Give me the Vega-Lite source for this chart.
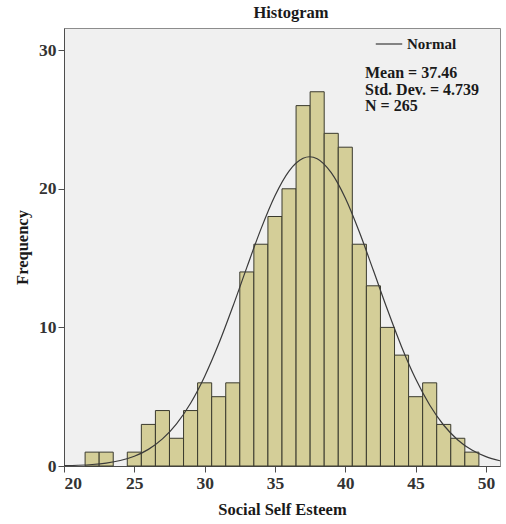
{
  "$schema": "https://vega.github.io/schema/vega-lite/v6.json",
  "width": 436,
  "height": 438,
  "autosize": {"type": "none"},
  "padding": {"left": 64, "top": 28, "right": 6, "bottom": 58},
  "background": "#ffffff",
  "title": {"text": "Histogram", "anchor": "middle", "frame": "group", "offset": 7, "dx": 9, "font": "Liberation Serif", "fontSize": 16.5, "fontWeight": "bold", "color": "#1a1a1a"},
  "config": {
    "view": {"fill": "#f0f0f0", "stroke": "#8c8c8c", "strokeWidth": 1},
    "axis": {"grid": false, "labelFont": "Liberation Serif", "labelFontSize": 17.5, "labelFontWeight": "bold", "labelColor": "#333333", "titleFont": "Liberation Serif", "titleFontSize": 16.5, "titleFontWeight": "bold", "titleColor": "#1a1a1a", "domainColor": "#4d4d4d", "tickColor": "#4d4d4d", "tickSize": 6}
  },
  "datasets": {
    "bins": [
      {"score": 22, "count": 1}, {"score": 23, "count": 1}, {"score": 25, "count": 1},
      {"score": 26, "count": 3}, {"score": 27, "count": 4}, {"score": 28, "count": 2},
      {"score": 29, "count": 4}, {"score": 30, "count": 6}, {"score": 31, "count": 5},
      {"score": 32, "count": 6}, {"score": 33, "count": 14}, {"score": 34, "count": 16},
      {"score": 35, "count": 18}, {"score": 36, "count": 20}, {"score": 37, "count": 26},
      {"score": 38, "count": 27}, {"score": 39, "count": 24}, {"score": 40, "count": 23},
      {"score": 41, "count": 16}, {"score": 42, "count": 13}, {"score": 43, "count": 10},
      {"score": 44, "count": 8}, {"score": 45, "count": 5}, {"score": 46, "count": 6},
      {"score": 47, "count": 3}, {"score": 48, "count": 2}, {"score": 49, "count": 1}
    ],
    "normal": [
      {"x": 20, "y": 0.025, "series": "Normal"}, {"x": 21, "y": 0.054, "series": "Normal"},
      {"x": 22, "y": 0.109, "series": "Normal"}, {"x": 23, "y": 0.212, "series": "Normal"},
      {"x": 24, "y": 0.395, "series": "Normal"}, {"x": 25, "y": 0.703, "series": "Normal"},
      {"x": 26, "y": 1.199, "series": "Normal"}, {"x": 27, "y": 1.953, "series": "Normal"},
      {"x": 28, "y": 3.043, "series": "Normal"}, {"x": 29, "y": 4.531, "series": "Normal"},
      {"x": 30, "y": 6.463, "series": "Normal"}, {"x": 31, "y": 8.813, "series": "Normal"},
      {"x": 32, "y": 11.49, "series": "Normal"}, {"x": 33, "y": 14.33, "series": "Normal"},
      {"x": 34, "y": 17.09, "series": "Normal"}, {"x": 35, "y": 19.5, "series": "Normal"},
      {"x": 36, "y": 21.28, "series": "Normal"}, {"x": 37, "y": 22.2, "series": "Normal"},
      {"x": 37.46, "y": 22.31, "series": "Normal"}, {"x": 38, "y": 22.17, "series": "Normal"},
      {"x": 39, "y": 21.16, "series": "Normal"}, {"x": 40, "y": 19.33, "series": "Normal"},
      {"x": 41, "y": 16.88, "series": "Normal"}, {"x": 42, "y": 14.1, "series": "Normal"},
      {"x": 43, "y": 11.27, "series": "Normal"}, {"x": 44, "y": 8.61, "series": "Normal"},
      {"x": 45, "y": 6.29, "series": "Normal"}, {"x": 46, "y": 4.4, "series": "Normal"},
      {"x": 47, "y": 2.94, "series": "Normal"}, {"x": 48, "y": 1.881, "series": "Normal"},
      {"x": 49, "y": 1.15, "series": "Normal"}, {"x": 50, "y": 0.673, "series": "Normal"},
      {"x": 51, "y": 0.377, "series": "Normal"}
    ],
    "stats": [
      {"label": "Mean = 37.46\nStd. Dev. = 4.739\nN = 265"}
    ]
  },
  "layer": [
    {
      "data": {"name": "bins"},
      "mark": {"type": "rect", "fill": "#d4ce98", "stroke": "#3a3a2e", "strokeWidth": 1},
      "transform": [
        {"bin": {"step": 1, "anchor": 0.5, "extent": [20.5, 50.5]}, "field": "score", "as": ["lo", "hi"]}
      ],
      "encoding": {
        "x": {"field": "lo", "type": "quantitative", "scale": {"domain": [20, 51], "nice": false, "zero": false}, "axis": {"values": [20, 25, 30, 35, 40, 45, 50], "title": "Social Self Esteem", "titlePadding": 10, "labelPadding": 2}},
        "x2": {"field": "hi"},
        "y": {"field": "count", "type": "quantitative", "scale": {"domain": [0, 31.6], "nice": false}, "axis": {"values": [0, 10, 20, 30], "title": "Frequency", "titlePadding": 8, "labelPadding": 2}},
        "y2": {"datum": 0}
      }
    },
    {
      "data": {"name": "normal"},
      "mark": {"type": "line", "interpolate": "monotone", "strokeWidth": 1.2, "clip": true},
      "encoding": {
        "x": {"field": "x", "type": "quantitative"},
        "y": {"field": "y", "type": "quantitative"},
        "color": {"field": "series", "type": "nominal", "scale": {"range": ["#3a3a3a"]},
          "legend": {"title": null, "orient": "none", "legendX": 311, "legendY": 2, "symbolType": "stroke", "symbolSize": 700, "symbolStrokeWidth": 1.2, "labelFont": "Liberation Serif", "labelFontSize": 15, "labelFontWeight": "bold", "labelColor": "#1a1a1a", "labelOffset": 4, "padding": 0}}
      }
    },
    {
      "data": {"name": "stats"},
      "mark": {"type": "text", "align": "left", "baseline": "top", "font": "Liberation Serif", "fontSize": 16, "fontWeight": "bold", "color": "#1a1a1a", "lineBreak": "\n", "lineHeight": 16.5},
      "encoding": {
        "x": {"datum": 41.4, "type": "quantitative"},
        "y": {"datum": 28.9, "type": "quantitative"},
        "text": {"field": "label"}
      }
    }
  ]
}
